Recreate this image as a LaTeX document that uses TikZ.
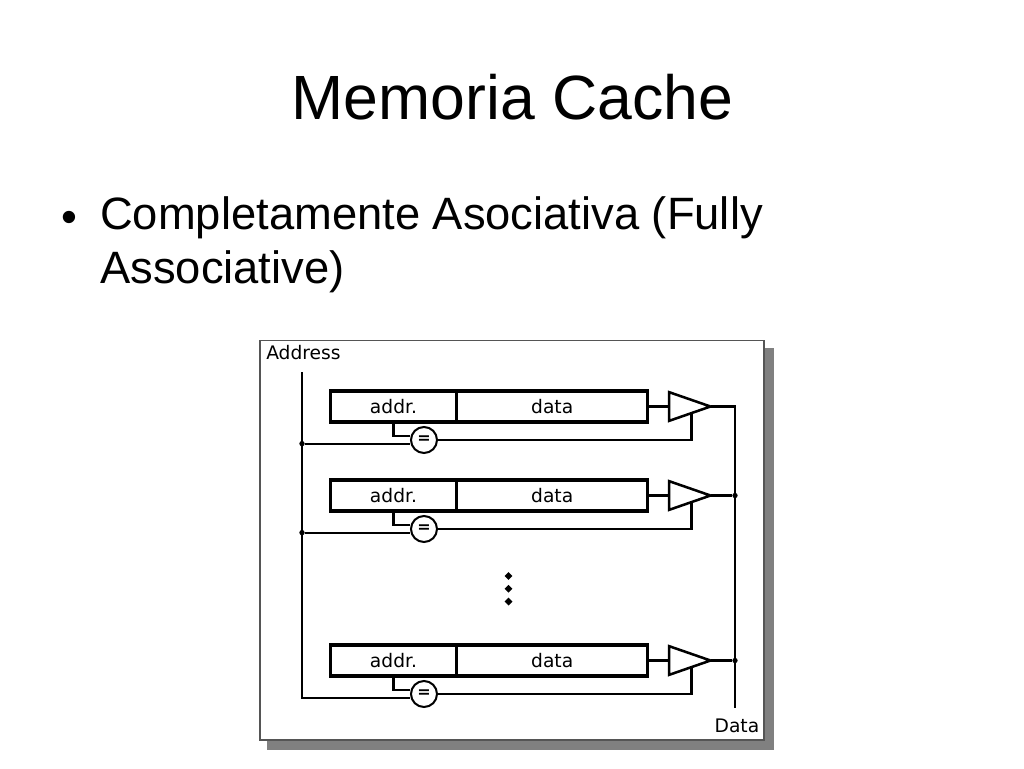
\documentclass[tikz,border=0pt]{standalone}
\usepackage{fontspec}
\setmainfont{Liberation Sans}
\newfontfamily\labelfont{DejaVu Sans}
\usepackage{xcolor}
\usepackage{tikz}
\usetikzlibrary{arrows.meta, calc, positioning, shapes.geometric}

\definecolor{shadowgray}{HTML}{808080}
\definecolor{framegray}{HTML}{555555}

\tikzset{
  wire/.style={line width=1.6pt, black},
  cellbox/.style={rectangle, draw, line width=2.4pt, minimum height=23.2pt, inner sep=0pt, font=\labelfont\fontsize{14}{16}\selectfont},
  compare/.style={circle, draw, line width=1.5pt, fill=white, minimum size=19.5pt, inner sep=0pt, font=\labelfont\bfseries\fontsize{12}{14}\selectfont},
  buffer/.style={isosceles triangle, isosceles triangle stretches, draw, line width=1.9pt, fill=white, minimum width=21.5pt, minimum height=31pt, inner sep=0pt, outer sep=0pt, anchor=apex},
  junction/.style={circle, fill, inner sep=0pt, minimum size=4pt},
  pipdot/.style={diamond, fill, inner sep=0pt, minimum size=6pt},
  caption/.style={font=\labelfont\fontsize{14}{16}\selectfont, inner sep=0pt}
}

\begin{document}
\begin{tikzpicture}[x=0.75pt, y=-0.75pt]
\useasboundingbox (0,0) rectangle (1024,768);

% slide text
\node [font=\fontsize{46.9}{54}\selectfont, inner sep=0pt] (title) at (512.5,97) {Memoria Cache};
\node [font=\fontsize{34}{39}\selectfont, inner sep=0pt] (bullet) at (69,222) {•};
\node [font=\fontsize{34}{40.5}\selectfont, inner sep=0pt, anchor=north west, align=left] (body) at (100,196) {Completamente Asociativa (Fully\\Associative)};

% panel
\fill [shadowgray] (267,348) rectangle (774,750);
\draw [framegray, fill=white, line width=0.8pt] (260,340.5) rectangle (764,740);
\node [caption, anchor=west] (addresslabel) at (266,353) {Address};
\node [caption, anchor=east] (datalabel) at (759.5,726) {Data};

\coordinate (addrtop) at (302,372);
\coordinate (dataend) at (735,708);

% one row per cache line
\foreach \r/\y in {1/406.5, 2/495.5, 3/660.5} {
  \node [cellbox, minimum width=95pt] (addr\r) at (393.5,\y) {addr.};
  \node [cellbox, minimum width=143pt, right=-2.4pt of addr\r] (data\r) {data};
  \node [compare] (eq\r) at (424,\y+33.5) {=};
  \node [buffer] (amp\r) at (710.5,\y) {};
  \draw [wire] (addr\r.south) |- (eq\r.165);
  \draw [wire] (data\r.east) -- (amp\r.lower side);
  \draw [wire] (eq\r.east) -| ($(amp\r.apex)!0.46!(amp\r.right corner)$);
}

% address bus
\draw [wire] (addrtop) |- (eq3.195);
\node [junction] (tap1) at (addrtop |- eq1.195) {};
\node [junction] (tap2) at (addrtop |- eq2.195) {};
\draw [wire] (tap1) -- (eq1.195);
\draw [wire] (tap2) -- (eq2.195);

% data bus
\draw [wire] (amp1.apex) -| (dataend);
\node [junction] (join2) at (dataend |- amp2.apex) {};
\node [junction] (join3) at (dataend |- amp3.apex) {};
\draw [wire] (amp2.apex) -- (join2);
\draw [wire] (amp3.apex) -- (join3);

% rows left out
\node [pipdot] (pip1) at (508.5,576) {};
\node [pipdot, below=3.2pt of pip1] (pip2) {};
\node [pipdot, below=3.2pt of pip2] (pip3) {};
\end{tikzpicture}
\end{document}
